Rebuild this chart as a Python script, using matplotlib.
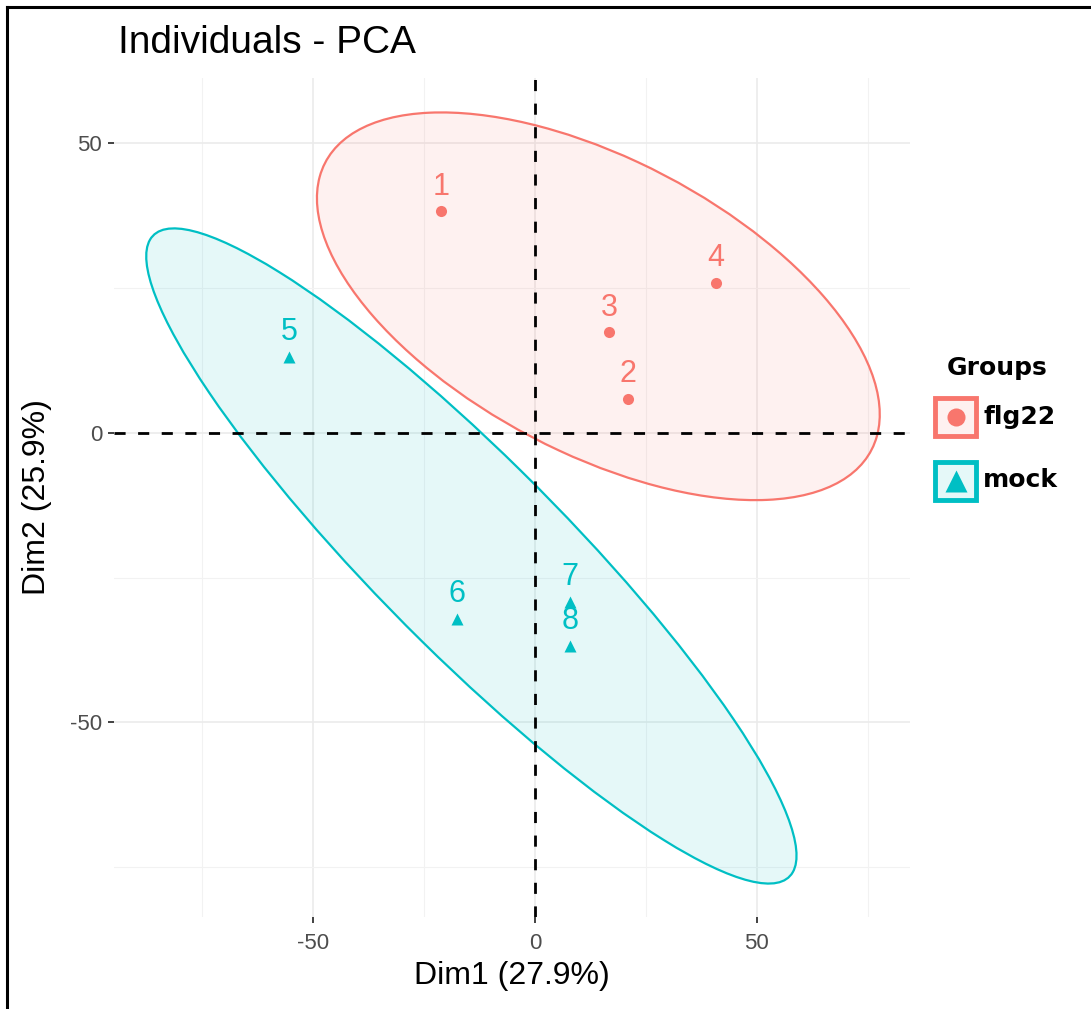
import numpy as np
import matplotlib.pyplot as plt
from matplotlib.patches import Ellipse, Rectangle
from matplotlib.lines import Line2D

groups = ['flg22', 'mock']
group_colors = ['#F8766D', '#00BFC4']
group_markers = ['o', '^']
ind_labels = ['1', '2', '3', '4', '5', '6', '7', '8']
ind_group = ['flg22', 'flg22', 'flg22', 'flg22', 'mock', 'mock', 'mock', 'mock']
dim1 = [-21.2, 20.9, 16.7, 40.8, -55.4, -17.6, 7.9, 7.9]
dim2 = [38.3, 5.9, 17.4, 25.9, 13.1, -32.1, -29.2, -36.8]
dim1_pct = 27.9
dim2_pct = 25.9

plt.rcParams['font.family'] = ['Liberation Sans', 'DejaVu Sans']
plt.rcParams['axes.unicode_minus'] = False

W, H = 1091, 1009
fig = plt.figure(figsize=(W / 100, H / 100), dpi=100)


def px(x, y):
    # pixel position (from top-left) -> figure fraction
    return x / W, 1 - y / H


ax = fig.add_axes([114 / W, 1 - 917 / H, (910 - 114) / W, (917 - 78) / H])
ax.set_xlim(-94.8, 84.5)
ax.set_ylim(-83.6, 61.3)

ax.set_xticks([-50, 0, 50])
ax.set_yticks([-50, 0, 50])
ax.set_xticks([-75, -25, 25, 75], minor=True)
ax.set_yticks([-75, -25, 25], minor=True)
ax.grid(which='major', color='#EBEBEB', lw=1.2, zorder=0)
ax.grid(which='minor', color='#F2F2F2', lw=0.8, zorder=0)
ax.set_axisbelow(True)
for s in ax.spines.values():
    s.set_visible(False)
ax.tick_params(which='major', length=4.5, width=1.3, color='#333333',
               labelsize=16, labelcolor='#4D4D4D')
ax.tick_params(axis='x', pad=7)
ax.tick_params(axis='y', pad=4)
ax.tick_params(which='minor', length=0)

x = np.array(dim1)
y = np.array(dim2)
grp = np.array(ind_group)
r = np.sqrt(-2 * np.log(0.05))  # 95% normal ellipse

for g, c, m in zip(groups, group_colors, group_markers):
    sel = grp == g
    pts = np.column_stack([x[sel], y[sel]])
    cov = np.cov(pts, rowvar=False)
    vals, vecs = np.linalg.eigh(cov)
    ang = np.degrees(np.arctan2(vecs[1, 1], vecs[0, 1]))
    center = pts.mean(axis=0)
    ax.add_patch(Ellipse(center, 2 * r * np.sqrt(vals[1]), 2 * r * np.sqrt(vals[0]),
                         angle=ang, facecolor=c, alpha=0.1, edgecolor='none', zorder=1))
    ax.add_patch(Ellipse(center, 2 * r * np.sqrt(vals[1]), 2 * r * np.sqrt(vals[0]),
                         angle=ang, facecolor='none', edgecolor=c, lw=1.6, zorder=2))
    ax.plot(x[sel], y[sel], ls='none', marker=m, ms=8 if m == 'o' else 9,
            color=c, mec='none', zorder=4)

for xi, yi, lab, g in zip(x, y, ind_labels, grp):
    c = group_colors[groups.index(g)]
    ax.annotate(lab, (xi, yi), xytext=(0, 12), textcoords='offset points',
                ha='center', va='baseline', fontsize=22, color=c, zorder=5)

ax.axhline(0, color='black', lw=2, dashes=(4, 4.5), zorder=3)
ax.axvline(0, color='black', lw=2, dashes=(4, 4.5), zorder=3)

ax.set_xlabel(f'Dim1 ({dim1_pct}%)', fontsize=23)
ax.set_ylabel(f'Dim2 ({dim2_pct}%)', fontsize=23)
ax.xaxis.set_label_coords(0.5, (917 - 961) / 839)
ax.yaxis.set_label_coords((52 - 114) / 796, 0.5)

fig.text(*px(118, 53), 'Individuals - PCA', fontsize=28, va='baseline', ha='left')

# legend, drawn by hand
fig.text(*px(997, 375), 'Groups', fontsize=18, fontweight='bold',
         family='DejaVu Sans', ha='center', va='baseline')
key_tops = [396, 460]
text_base = [424, 487]
for g, c, m, kt, tb in zip(groups, group_colors, group_markers, key_tops, text_base):
    x0, y0 = px(935, kt + 40)
    fig.patches.append(Rectangle((x0, y0), 41 / W, 38 / H, transform=fig.transFigure,
                                 facecolor=c, alpha=0.1, edgecolor='none'))
    fig.patches.append(Rectangle((x0, y0), 41 / W, 38 / H, transform=fig.transFigure,
                                 facecolor='none', edgecolor=c, lw=3.5))
    mx, my = px(955.5, kt + 21)
    fig.add_artist(Line2D([mx], [my], marker=m, ms=13 if m == 'o' else 16,
                          color=c, mec='none', transform=fig.transFigure))
    fig.text(*px(983, tb), g, fontsize=18, fontweight='bold',
             family='DejaVu Sans', ha='left', va='baseline')

# screenshot frame: top and left edges
fig.add_artist(Line2D([px(7, 0)[0], 1], [px(0, 7)[1]] * 2, color='black', lw=2.2,
                      transform=fig.transFigure))
fig.add_artist(Line2D([px(7, 0)[0]] * 2, [0, px(0, 7)[1]], color='black', lw=2.2,
                      transform=fig.transFigure))

fig.savefig('out.png', dpi=100)
